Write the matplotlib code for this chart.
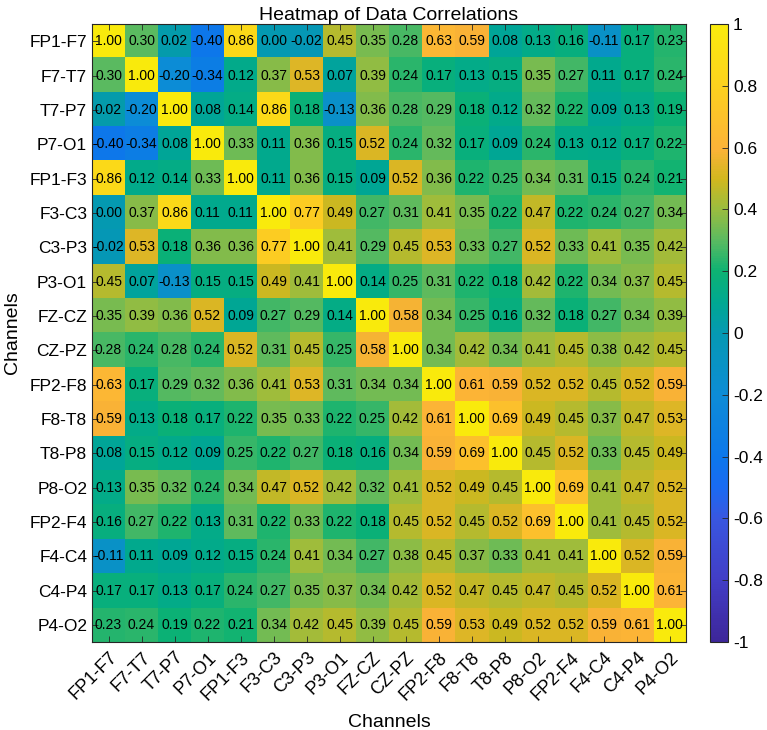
import numpy as np
import matplotlib
matplotlib.use("Agg")
import matplotlib.pyplot as plt
from matplotlib.colors import LinearSegmentedColormap

plt.rcParams['font.family'] = ['Liberation Sans', 'DejaVu Sans']

channels = ["FP1-F7", "F7-T7", "T7-P7", "P7-O1", "FP1-F3", "F3-C3", "C3-P3", "P3-O1",
            "FZ-CZ", "CZ-PZ", "FP2-F8", "F8-T8", "T8-P8", "P8-O2", "FP2-F4", "F4-C4",
            "C4-P4", "P4-O2"]

row_fp1_f7 = [1.00, 0.30, 0.02, -0.40, 0.86, 0.00, -0.02, 0.45, 0.35, 0.28, 0.63, 0.59, 0.08, 0.13, 0.16, -0.11, 0.17, 0.23]
row_f7_t7 = [0.30, 1.00, -0.20, -0.34, 0.12, 0.37, 0.53, 0.07, 0.39, 0.24, 0.17, 0.13, 0.15, 0.35, 0.27, 0.11, 0.17, 0.24]
row_t7_p7 = [0.02, -0.20, 1.00, 0.08, 0.14, 0.86, 0.18, -0.13, 0.36, 0.28, 0.29, 0.18, 0.12, 0.32, 0.22, 0.09, 0.13, 0.19]
row_p7_o1 = [-0.40, -0.34, 0.08, 1.00, 0.33, 0.11, 0.36, 0.15, 0.52, 0.24, 0.32, 0.17, 0.09, 0.24, 0.13, 0.12, 0.17, 0.22]
row_fp1_f3 = [0.86, 0.12, 0.14, 0.33, 1.00, 0.11, 0.36, 0.15, 0.09, 0.52, 0.36, 0.22, 0.25, 0.34, 0.31, 0.15, 0.24, 0.21]
row_f3_c3 = [0.00, 0.37, 0.86, 0.11, 0.11, 1.00, 0.77, 0.49, 0.27, 0.31, 0.41, 0.35, 0.22, 0.47, 0.22, 0.24, 0.27, 0.34]
row_c3_p3 = [-0.02, 0.53, 0.18, 0.36, 0.36, 0.77, 1.00, 0.41, 0.29, 0.45, 0.53, 0.33, 0.27, 0.52, 0.33, 0.41, 0.35, 0.42]
row_p3_o1 = [0.45, 0.07, -0.13, 0.15, 0.15, 0.49, 0.41, 1.00, 0.14, 0.25, 0.31, 0.22, 0.18, 0.42, 0.22, 0.34, 0.37, 0.45]
row_fz_cz = [0.35, 0.39, 0.36, 0.52, 0.09, 0.27, 0.29, 0.14, 1.00, 0.58, 0.34, 0.25, 0.16, 0.32, 0.18, 0.27, 0.34, 0.39]
row_cz_pz = [0.28, 0.24, 0.28, 0.24, 0.52, 0.31, 0.45, 0.25, 0.58, 1.00, 0.34, 0.42, 0.34, 0.41, 0.45, 0.38, 0.42, 0.45]
row_fp2_f8 = [0.63, 0.17, 0.29, 0.32, 0.36, 0.41, 0.53, 0.31, 0.34, 0.34, 1.00, 0.61, 0.59, 0.52, 0.52, 0.45, 0.52, 0.59]
row_f8_t8 = [0.59, 0.13, 0.18, 0.17, 0.22, 0.35, 0.33, 0.22, 0.25, 0.42, 0.61, 1.00, 0.69, 0.49, 0.45, 0.37, 0.47, 0.53]
row_t8_p8 = [0.08, 0.15, 0.12, 0.09, 0.25, 0.22, 0.27, 0.18, 0.16, 0.34, 0.59, 0.69, 1.00, 0.45, 0.52, 0.33, 0.45, 0.49]
row_p8_o2 = [0.13, 0.35, 0.32, 0.24, 0.34, 0.47, 0.52, 0.42, 0.32, 0.41, 0.52, 0.49, 0.45, 1.00, 0.69, 0.41, 0.47, 0.52]
row_fp2_f4 = [0.16, 0.27, 0.22, 0.13, 0.31, 0.22, 0.33, 0.22, 0.18, 0.45, 0.52, 0.45, 0.52, 0.69, 1.00, 0.41, 0.45, 0.52]
row_f4_c4 = [-0.11, 0.11, 0.09, 0.12, 0.15, 0.24, 0.41, 0.34, 0.27, 0.38, 0.45, 0.37, 0.33, 0.41, 0.41, 1.00, 0.52, 0.59]
row_c4_p4 = [0.17, 0.17, 0.13, 0.17, 0.24, 0.27, 0.35, 0.37, 0.34, 0.42, 0.52, 0.47, 0.45, 0.47, 0.45, 0.52, 1.00, 0.61]
row_p4_o2 = [0.23, 0.24, 0.19, 0.22, 0.21, 0.34, 0.42, 0.45, 0.39, 0.45, 0.59, 0.53, 0.49, 0.52, 0.52, 0.59, 0.61, 1.00]

corr = np.array([row_fp1_f7, row_f7_t7, row_t7_p7, row_p7_o1, row_fp1_f3, row_f3_c3,
                 row_c3_p3, row_p3_o1, row_fz_cz, row_cz_pz, row_fp2_f8, row_f8_t8,
                 row_t8_p8, row_p8_o2, row_fp2_f4, row_f4_c4, row_c4_p4, row_p4_o2])

cbar_ticks = [-1, -0.8, -0.6, -0.4, -0.2, 0, 0.2, 0.4, 0.6, 0.8, 1]
cbar_labels = ["-1", "-0.8", "-0.6", "-0.4", "-0.2", "0", "0.2", "0.4", "0.6", "0.8", "1"]

# parula-like colormap
parula = LinearSegmentedColormap.from_list("parula_like", [
    (0.00, (0.24, 0.15, 0.60)),
    (0.10, (0.26, 0.24, 0.78)),
    (0.20, (0.22, 0.34, 0.88)),
    (0.25, (0.10, 0.42, 0.95)),
    (0.30, (0.05, 0.47, 0.92)),
    (0.40, (0.05, 0.55, 0.84)),
    (0.50, (0.02, 0.60, 0.70)),
    (0.55, (0.00, 0.66, 0.57)),
    (0.60, (0.05, 0.70, 0.45)),
    (0.65, (0.35, 0.73, 0.38)),
    (0.70, (0.60, 0.74, 0.25)),
    (0.75, (0.82, 0.72, 0.12)),
    (0.80, (0.99, 0.70, 0.22)),
    (0.90, (0.99, 0.82, 0.12)),
    (1.00, (0.98, 0.92, 0.05)),
])

fig = plt.figure(figsize=(7.67, 7.30), dpi=100)
ax = fig.add_axes([0.12, 0.1205, 0.7745, 0.8466])
cax = fig.add_axes([0.9257, 0.1205, 0.0235, 0.8466])

im = ax.imshow(corr, cmap=parula, vmin=-1, vmax=1, aspect='auto', interpolation='nearest')

n = len(channels)
for i in range(n):
    for j in range(n):
        ax.text(j, i, "%.2f" % corr[i, j], ha='center', va='center', fontsize=10, color='black')

ax.set_xticks(range(n))
ax.set_yticks(range(n))
ax.set_xticklabels(channels, rotation=45, ha='right', rotation_mode='anchor', fontsize=13)
ax.set_yticklabels(channels, fontsize=12.5)
ax.tick_params(direction='in', top=True, right=True, length=4, color='#262626', width=0.6)
ax.tick_params(axis='x', pad=5)
ax.set_xlabel("Channels", fontsize=14, labelpad=8)
ax.set_ylabel("Channels", fontsize=14, labelpad=6)
ax.set_title("Heatmap of Data Correlations", fontsize=14, pad=3)
for s in ax.spines.values():
    s.set_color('#262626')
    s.set_linewidth(0.8)

cb = fig.colorbar(im, cax=cax, ticks=cbar_ticks)
cb.ax.set_yticklabels(cbar_labels)
cb.ax.tick_params(direction='in', length=4, labelsize=12.5, color='#262626', width=0.6)
cb.outline.set_edgecolor('#262626')
cb.outline.set_linewidth(0.8)

plt.savefig("out.png", dpi=100)
